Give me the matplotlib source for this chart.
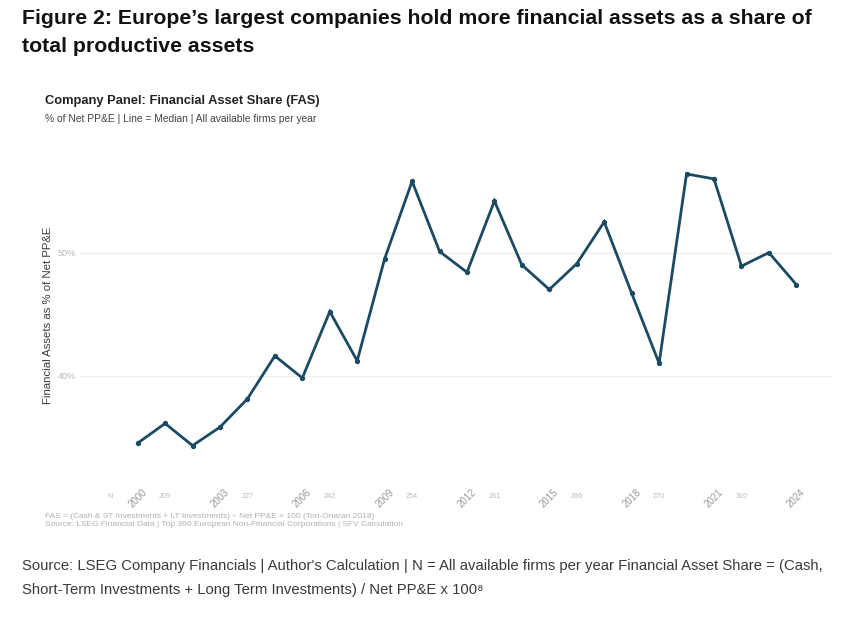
import matplotlib
matplotlib.use("Agg")
import matplotlib.pyplot as plt
import matplotlib.transforms as mtransforms

plt.rcParams['font.family'] = ['Liberation Sans', 'DejaVu Sans']

years = list(range(2000, 2025))
fas_median = [34.5, 36.1, 34.3, 35.8, 38.1, 41.6, 39.8, 45.2, 41.2, 49.5,
              55.8, 50.1, 48.4, 54.2, 49.0, 47.0, 49.1, 52.5, 46.7, 41.0,
              56.4, 56.0, 48.9, 50.0, 47.4]
year_labels = [2000, 2003, 2006, 2009, 2012, 2015, 2018, 2021, 2024]
n_positions = [1999, 2001, 2004, 2007, 2010, 2013, 2016, 2019, 2022]
n_labels = ["N", "209", "227", "242", "254", "261", "266", "270", "310"]
y_ticks = [40, 50]
y_tick_labels = ["40%", "50%"]

W, H = 855, 622
fig = plt.figure(figsize=(W / 100, H / 100), dpi=100)
fig.patch.set_facecolor('white')

def fy(px):
    return 1 - px / H

def fx(px):
    return px / W

fig.text(fx(22), fy(18), "Figure 2: Europe\u2019s largest companies hold more financial assets as a share of",
         fontsize=15.3, fontweight='bold', color='#111111', va='center', ha='left')
fig.text(fx(22), fy(46), "total productive assets",
         fontsize=15.3, fontweight='bold', color='#111111', va='center', ha='left')

fig.text(fx(45), fy(101), "Company Panel: Financial Asset Share (FAS)",
         fontsize=9.3, fontweight='bold', color='#222222', va='center', ha='left')
fig.text(fx(45), fy(119), "% of Net PP&E | Line = Median | All available firms per year",
         fontsize=7.4, color='#444444', va='center', ha='left')

ax = fig.add_axes([fx(80), fy(480), fx(832) - fx(80), fy(150) - fy(480)])
ax.plot(years, fas_median, color='#1b4a62', linewidth=2.0, marker='o', markersize=2.8,
        solid_joinstyle='miter', zorder=3)
ax.set_xlim(1997.9, 2025.3)
ax.set_ylim(31.5, 58.35)
ax.set_yticks(y_ticks)
ax.set_yticklabels(y_tick_labels, fontsize=6.5, color='#b5b5b5')
ax.set_xticks(year_labels)
ax.set_xticklabels([str(y) for y in year_labels], fontsize=7, color='#999999', rotation=45,
                   ha='center')
ax.tick_params(axis='y', length=0, pad=3)
ax.tick_params(axis='x', length=0, pad=5)
ax.grid(axis='y', color='#eeeeee', linewidth=0.9)
ax.set_axisbelow(True)
for s in ax.spines.values():
    s.set_visible(False)
ax.set_ylabel("Financial Assets as % of Net PP&E", fontsize=8.2, color='#3a3a3a')
ax.yaxis.set_label_coords(-0.036, 0.5)

trans = mtransforms.blended_transform_factory(ax.transData, ax.transAxes)
for xp, lab in zip(n_positions, n_labels):
    ax.text(xp, -0.05, lab, transform=trans, fontsize=5.2, color='#bbbbbb',
            ha='center', va='center')

fig.text(fx(45), fy(516), "FAS = (Cash & ST Investments + LT Investments) \u00f7 Net PP&E \u00d7 100 (Tori-Onaran 2018)",
         fontsize=6.0, color='#b0b0b0', va='center', ha='left')
fig.text(fx(45), fy(525), "Source: LSEG Financial Data | Top 300 European Non-Financial Corporations | SFV Calculation",
         fontsize=6.0, color='#b0b0b0', va='center', ha='left')

fig.text(fx(22), fy(566), "Source: LSEG Company Financials | Author's Calculation | N = All available firms per year Financial Asset Share = (Cash,",
         fontsize=10.7, color='#3a3a3a', va='center', ha='left')
fig.text(fx(22), fy(590), "Short-Term Investments + Long Term Investments) / Net PP&E x 100\u2078",
         fontsize=10.7, color='#3a3a3a', va='center', ha='left')

fig.savefig("out.png", dpi=100, facecolor='white')
